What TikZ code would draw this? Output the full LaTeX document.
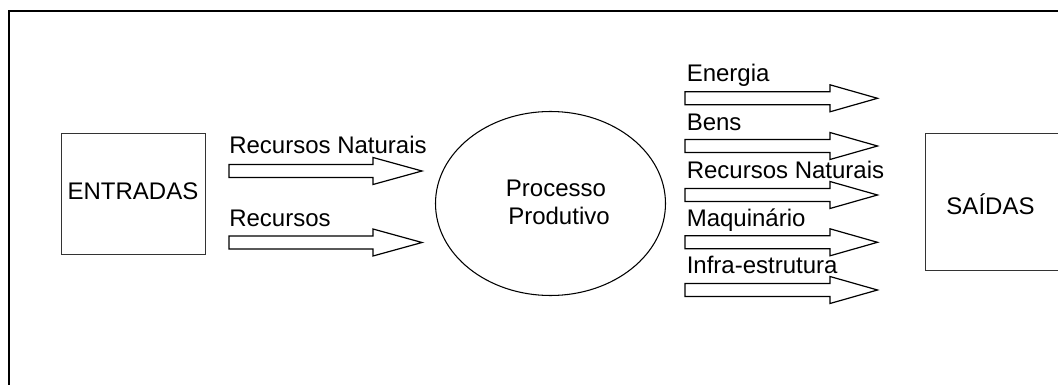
\documentclass[tikz,border=0pt]{standalone}
\usepackage{fontspec}
\setmainfont{Liberation Sans}
\usetikzlibrary{shapes.geometric}
\tikzset{
  lbl/.style={inner sep=0pt, font=\fontsize{18}{21.6}\selectfont},
  boxshape/.style={draw=black!80, line width=0.75pt, rectangle, inner sep=0pt},
  frameline/.style={draw=black, line width=1.5pt},
  arrowline/.style={draw=black, line width=0.9pt, fill=white, line join=miter},
  pics/blockarrow/.style args={#1/#2}{code={
    \draw[arrowline] (0,-6.5) -- (#1,-6.5) -- (#1,-13.5) -- (#2,0) -- (#1,13.5) -- (#1,6.5) -- (0,6.5) -- cycle;
  }}
}
\begin{document}
\begin{tikzpicture}[x=0.75pt,y=-0.75pt]
\useasboundingbox (0,0) rectangle (1058,385);
\clip (0,0) rectangle (1058,385);
% outer frame (top and left)
\draw[frameline] (9,400) -- (9,11) -- (1070,11);
% ENTRADAS
\node[boxshape, minimum width=108pt, minimum height=90pt] (entradas) at (133,194) {};
\node[lbl, anchor=base] (entradastxt) at (133,199.3) {ENTRADAS};
% input arrows
\pic at (229,171) {blockarrow=144/193};
\node[lbl, anchor=base west] (in1) at (229,154) {Recursos Naturais};
\pic at (229,242.5) {blockarrow=144/193};
\node[lbl, anchor=base west] (in2) at (229,226.7) {Recursos};
% process ellipse
\node[draw=black, line width=0.8pt, ellipse, inner sep=0pt, minimum width=172.5pt, minimum height=138pt] (proc) at (550.5,203.5) {};
\node[lbl, anchor=base] (proc1) at (556,196.7) {Processo};
\node[lbl, anchor=base] (proc2) at (559,224) {Produtivo};
% output arrows
\pic at (685,98.3) {blockarrow=145/192.5};
\node[lbl, anchor=base west] (out1) at (686.5,82) {Energia};
\pic at (685,146) {blockarrow=145/192.5};
\node[lbl, anchor=base west] (out2) at (686.5,130.7) {Bens};
\pic at (685,195) {blockarrow=145/192.5};
\node[lbl, anchor=base west] (out3) at (686.5,178.3) {Recursos Naturais};
\pic at (685,242.3) {blockarrow=145/192.5};
\node[lbl, anchor=base west] (out4) at (686.5,226.7) {Maquinário};
\pic at (685,290) {blockarrow=145/192.5};
\node[lbl, anchor=base west] (out5) at (686.5,273) {Infra-estrutura};
% SAIDAS
\node[boxshape, anchor=north west, minimum width=112pt, minimum height=102.5pt] (saidas) at (925,133.3) {};
\node[lbl, anchor=base] (saidastxt) at (990.5,214.3) {SAÍDAS};
\end{tikzpicture}
\end{document}
